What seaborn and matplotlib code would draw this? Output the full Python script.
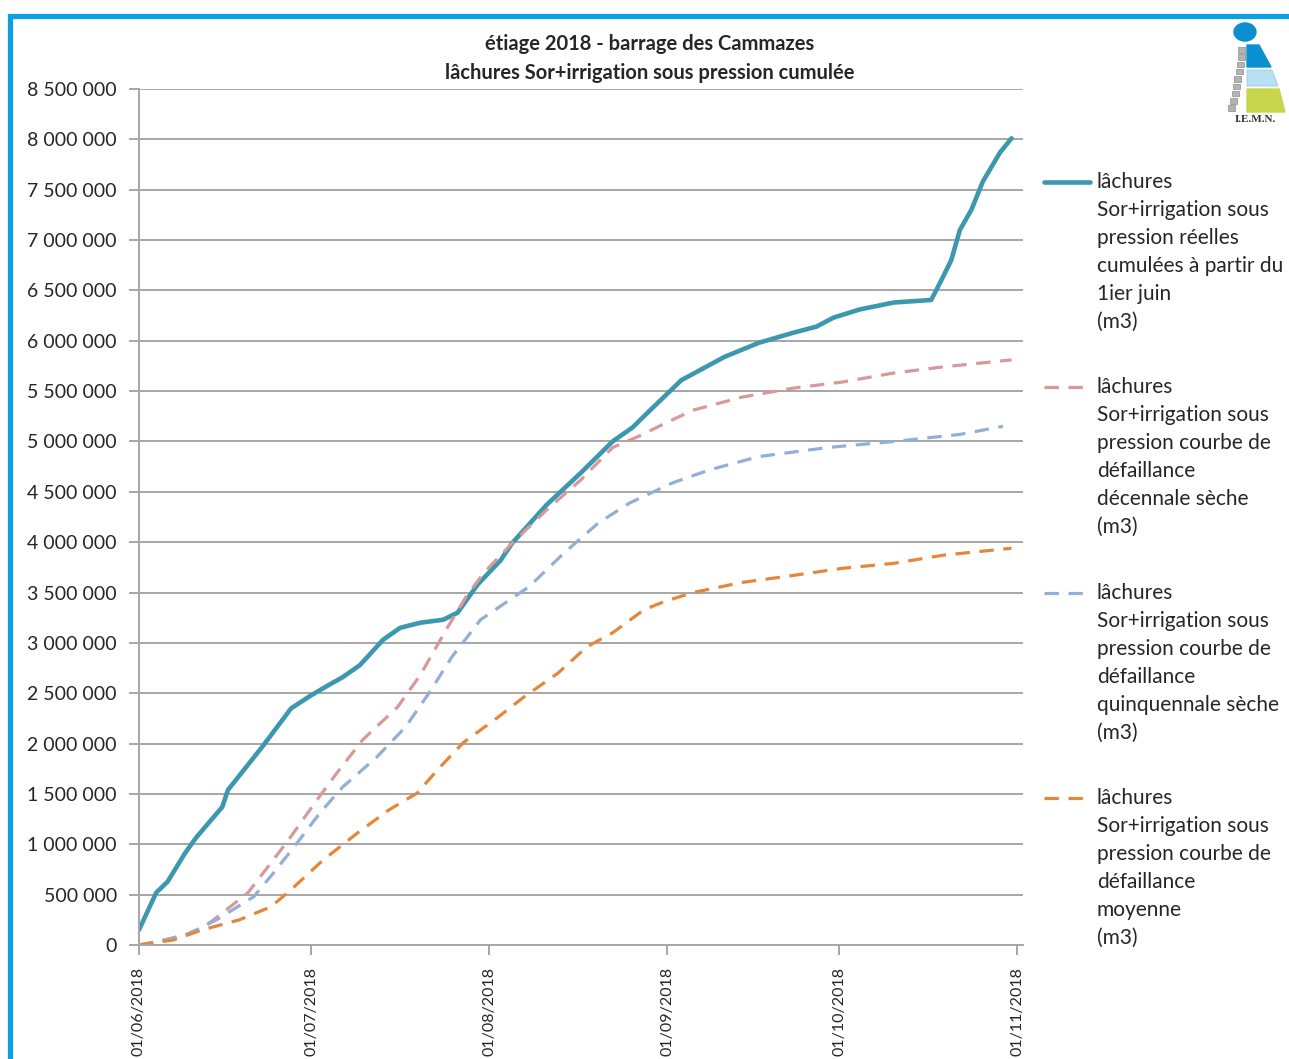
import numpy as np
import pandas as pd
import matplotlib
matplotlib.use("Agg")
import matplotlib.pyplot as plt
from matplotlib.ticker import FuncFormatter, MultipleLocator
from matplotlib.patches import Rectangle, Circle, Polygon
from matplotlib.lines import Line2D
import matplotlib.dates as mdates
import seaborn as sns

# Data: day offset from 01/06/2018 and cumulated volume (m3)
start = pd.Timestamp("2018-06-01")

real_days = [0, 3, 5, 8, 10, 14.5, 15.5, 21.5, 26.5, 30, 33, 35.5, 38.5, 42.5, 45.5, 49, 53,
             55.5, 56.5, 59, 63, 65, 71, 77, 82.5, 86, 88.5, 94.5, 95.5, 102, 108, 114, 118,
             121, 125.5, 131.5, 138, 139.5, 141.5, 143, 145, 147, 150, 152]
real_vol = [150000, 520000, 630000, 910000, 1070000, 1370000, 1540000, 1970000, 2350000,
            2480000, 2580000, 2660000, 2780000, 3030000, 3150000, 3200000, 3230000, 3300000,
            3380000, 3580000, 3820000, 3990000, 4370000, 4690000, 5000000, 5140000, 5280000,
            5610000, 5640000, 5840000, 5980000, 6080000, 6140000, 6230000, 6310000, 6380000,
            6405000, 6570000, 6800000, 7100000, 7300000, 7580000, 7870000, 8010000]

dec_days = [0, 4.5, 8, 10.5, 13, 19, 22.5, 26, 31, 34.5, 39, 45, 49, 53.5, 57, 60, 65, 71,
            77, 82.5, 87, 92, 96.5, 105, 114, 122.5, 131.5, 140, 152]
dec_vol = [0, 50000, 100000, 150000, 250000, 520000, 780000, 1040000, 1440000, 1710000,
           2040000, 2360000, 2680000, 3130000, 3460000, 3690000, 3990000, 4320000, 4620000,
           4940000, 5050000, 5190000, 5310000, 5440000, 5530000, 5590000, 5680000, 5740000,
           5810000]

quin_days = [0, 4.5, 8, 10, 13.5, 20, 23.5, 27.5, 31.5, 35.5, 41.5, 46.5, 50.5, 54.5, 59.5,
             68, 74, 80, 85.5, 93, 99.5, 108, 120, 131.5, 143, 150.5]
quin_vol = [0, 50000, 100000, 150000, 250000, 480000, 720000, 1010000, 1310000, 1570000,
            1870000, 2170000, 2500000, 2860000, 3230000, 3560000, 3890000, 4190000, 4390000,
            4590000, 4720000, 4850000, 4940000, 5000000, 5070000, 5150000]

moy_days = [0, 6, 11, 17.5, 23, 26.5, 32, 38, 43.5, 48.5, 52, 56.5, 62.5, 67, 73, 78, 82.5,
            88, 91.5, 96.5, 105, 114, 122.5, 131.5, 140, 152]
moy_vol = [0, 50000, 150000, 250000, 380000, 550000, 840000, 1110000, 1340000, 1510000,
           1740000, 2010000, 2260000, 2460000, 2700000, 2960000, 3100000, 3330000, 3410000,
           3500000, 3600000, 3670000, 3740000, 3790000, 3870000, 3940000]

labels = [
    "lâchures\nSor+irrigation sous\npression réelles\ncumulées à partir du\n1ier juin\n(m3)",
    "lâchures\nSor+irrigation sous\npression courbe de\ndéfaillance\ndécennale sèche\n(m3)",
    "lâchures\nSor+irrigation sous\npression courbe de\ndéfaillance\nquinquennale sèche\n(m3)",
    "lâchures\nSor+irrigation sous\npression courbe de\ndéfaillance\nmoyenne\n(m3)",
]
colors = ["#3b98af", "#d9989a", "#93afd8", "#e5873a"]
title = "étiage 2018 - barrage des Cammazes\nlâchures Sor+irrigation sous pression cumulée"

W, H = 1289, 1059
def px(x):
    return x / W
def py(y):
    return 1 - y / H

sns.set_theme(style="white")
plt.rcParams["font.family"] = ["Lato", "DejaVu Sans"]
text_c = "#262626"
grid_c = "#a6a6a6"

fig = plt.figure(figsize=(W / 100, H / 100), dpi=100)
ax = fig.add_axes([px(139), py(945), px(1023) - px(139), py(89) - py(945)])

series = [(real_days, real_vol, "-", 3.3),
          (dec_days, dec_vol, (0, (4.5, 3)), 2.3),
          (quin_days, quin_vol, (0, (4.5, 3)), 2.3),
          (moy_days, moy_vol, (0, (4.5, 3)), 2.3)]
for (days, vols, ls, lw), col in zip(series, colors):
    df = pd.DataFrame({"date": start + pd.to_timedelta(days, unit="D"), "volume": vols})
    sns.lineplot(data=df, x="date", y="volume", ax=ax, color=col, linestyle=ls,
                 linewidth=lw, solid_capstyle="round", dash_capstyle="butt")

ax.set_xlim(start, pd.Timestamp("2018-11-02"))
ax.set_ylim(0, 8500000)
ax.yaxis.set_major_locator(MultipleLocator(500000))
ax.yaxis.set_major_formatter(FuncFormatter(lambda v, p: f"{v:,.0f}".replace(",", " ")))
ax.xaxis.set_major_locator(mdates.MonthLocator())
ax.xaxis.set_major_formatter(mdates.DateFormatter("%d/%m/%Y"))
ax.set_xlabel("")
ax.set_ylabel("")
ax.yaxis.grid(True, color=grid_c, linewidth=1.4)
ax.xaxis.grid(False)
ax.set_axisbelow(True)
for s in ["top", "right"]:
    ax.spines[s].set_visible(False)
for s in ["left", "bottom"]:
    ax.spines[s].set_color(grid_c)
    ax.spines[s].set_linewidth(1.4)
ax.tick_params(axis="y", length=7, width=1.4, color=grid_c, pad=9, labelsize=14,
               labelcolor=text_c, left=True)
ax.tick_params(axis="x", length=7, width=1.4, color=grid_c, pad=9, labelsize=11.5,
               labelcolor=text_c, bottom=True)
plt.setp(ax.get_xticklabels(), rotation=90, ha="center", va="top")

# title
fig.text(px(650), py(58.5), title, ha="center", va="center", fontsize=14.5,
         fontweight="bold", color=text_c, linespacing=1.55)

# legend: handle aligned with first line of each label
entry_y = [181, 386, 592, 797]
for lab, col, (d, v, ls, lw), y in zip(labels, colors, series, entry_y):
    fig.add_artist(Line2D([px(1044), px(1090)], [py(y + 1), py(y + 1)], color=col,
                          linestyle=ls, linewidth=lw, solid_capstyle="round"))
    fig.text(px(1097), py(y - 9), lab, ha="left", va="top", fontsize=15,
             color=text_c, linespacing=1.5)

# blue frame around the chart
fig.add_artist(Rectangle((px(10), py(1100)), px(1400), py(16) - py(1100),
                         transform=fig.transFigure, fill=False,
                         edgecolor="#0fa0e2", linewidth=3.8))

# small I.E.M.N. logo
fig.add_artist(Circle((px(1245), py(32)), 11 / W, transform=fig.transFigure,
                      color="#0a8fd0"))
fig.add_artist(Polygon([(px(1247), py(45)), (px(1259), py(45)), (px(1271), py(67)),
                        (px(1247), py(67))], closed=True, transform=fig.transFigure,
                       color="#0a8fd0"))
fig.add_artist(Polygon([(px(1247), py(70)), (px(1272), py(70)), (px(1278), py(86)),
                        (px(1247), py(86))], closed=True, transform=fig.transFigure,
                       facecolor="#b6e1f4", edgecolor="#9ccbe0", linewidth=0.6))
fig.add_artist(Polygon([(px(1247), py(89)), (px(1279), py(89)), (px(1285), py(112)),
                        (px(1247), py(112))], closed=True, transform=fig.transFigure,
                       color="#c7d64a"))
for i in range(9):
    gy = 47 + i * 7.3
    gx = 1238 - (i / 8) ** 1.5 * 10
    fig.add_artist(Rectangle((px(gx), py(gy + 5.5)), 7 / W, 5.5 / H,
                             transform=fig.transFigure, facecolor="#b4b4b4",
                             edgecolor="#8c8c8c", linewidth=0.5))
fig.text(px(1255), py(120), "I.E.M.N.", ha="center", va="center", fontsize=8,
         fontweight="bold", family=["Liberation Serif", "DejaVu Serif"], color="#333333")

fig.savefig("out.png", dpi=100)
